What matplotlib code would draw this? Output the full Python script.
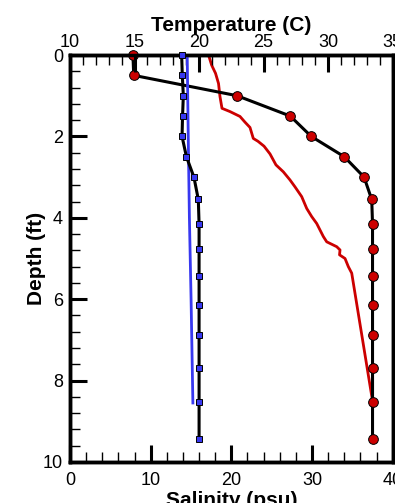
import matplotlib
matplotlib.use("Agg")
import matplotlib.pyplot as plt
from matplotlib.ticker import MultipleLocator

plt.rcParams['font.family'] = ['Liberation Sans', 'DejaVu Sans']

# depths of the sampled profile (ft)
depth_pts = [0, 0.5, 1.0, 1.5, 2.0, 2.5, 3.0, 3.55, 4.15, 4.77, 5.43, 6.14, 6.88, 7.68, 8.53, 9.44]
# salinity at those depths (circles, bottom axis)
sal_pts = [7.8, 7.9, 20.7, 27.3, 29.9, 34.0, 36.45, 37.4, 37.5, 37.5, 37.5, 37.5, 37.5, 37.5, 37.5, 37.5]
# temperature at those depths (squares, top axis)
temp_pts = [18.65, 18.7, 18.78, 18.72, 18.68, 19.02, 19.6, 19.94, 20.0, 20.0, 20.0, 20.0, 20.0, 20.0, 20.0, 20.0]

# red curve (salinity, model)
sal_line_depth = [0, 0.25, 0.45, 0.70, 1.02, 1.31, 1.39, 1.51, 1.65, 1.78, 2.05, 2.12, 2.24, 2.43,
                  2.70, 2.87, 3.07, 3.24, 3.48, 3.77, 3.97, 4.14, 4.46, 4.59, 4.71, 4.79, 4.91,
                  5.00, 5.20, 5.36, 8.50]
sal_line = [17.17, 17.56, 18.04, 18.41, 18.59, 18.84, 19.83, 21.07, 21.69, 22.31, 22.72, 23.30,
            24.05, 24.79, 25.53, 26.44, 27.27, 27.89, 28.72, 29.34, 29.96, 30.58, 31.40, 31.82,
            33.06, 33.47, 33.41, 34.09, 34.50, 34.92, 37.5]

# blue curve (temperature, model)
temp_line_depth = [0, 2, 4, 6, 8.55]
temp_line = [19.08, 19.16, 19.25, 19.38, 19.52]

red = '#cc0000'
blue = '#3838f0'

fig = plt.figure(figsize=(3.95, 5.03), dpi=100)
ax = fig.add_axes([70 / 395, 41 / 503, 322.7 / 395, 407 / 503])
ax.set_xlim(0, 40)
ax.set_ylim(10, 0)
ax2 = ax.twiny()
ax2.set_xlim(10, 35)

ax.plot(sal_line, sal_line_depth, color=red, lw=2.0, zorder=2)
ax2.plot(temp_line, temp_line_depth, color=blue, lw=2.0, zorder=2)
ax2.plot(temp_pts, depth_pts, color='black', lw=2.2, marker='s', ms=5,
         mfc=blue, mec='black', mew=0.7, clip_on=False, zorder=3)
ax.plot(sal_pts, depth_pts, color='black', lw=2.2, marker='o', ms=7,
        mfc=red, mec='black', mew=0.7, clip_on=False, zorder=3)

for a in (ax, ax2):
    for s in a.spines.values():
        s.set_linewidth(2.5)

ax.xaxis.set_major_locator(MultipleLocator(10))
ax.xaxis.set_minor_locator(MultipleLocator(2))
ax.yaxis.set_major_locator(MultipleLocator(2))
ax.yaxis.set_minor_locator(MultipleLocator(0.4))
ax2.xaxis.set_major_locator(MultipleLocator(5))
ax2.xaxis.set_minor_locator(MultipleLocator(1))

ax.tick_params(which='both', direction='in', top=False, right=False, labelsize=13)
ax.tick_params(which='major', length=12, width=2.2)
ax.tick_params(which='minor', length=7, width=1.0)
ax.tick_params(axis='x', pad=7)
ax.tick_params(axis='y', pad=5)
ax2.tick_params(which='both', direction='in', labelsize=13, pad=3)
ax2.tick_params(which='major', length=12, width=2.2)
ax2.tick_params(which='minor', length=7, width=1.0)

ax.set_xlabel('Salinity (psu)', fontsize=15, fontweight='bold', labelpad=2)
ax.set_ylabel('Depth (ft)', fontsize=15, fontweight='bold', labelpad=-2)
ax2.set_xlabel('Temperature (C)', fontsize=15, fontweight='bold', labelpad=2)

fig.savefig('out.png', dpi=100)
